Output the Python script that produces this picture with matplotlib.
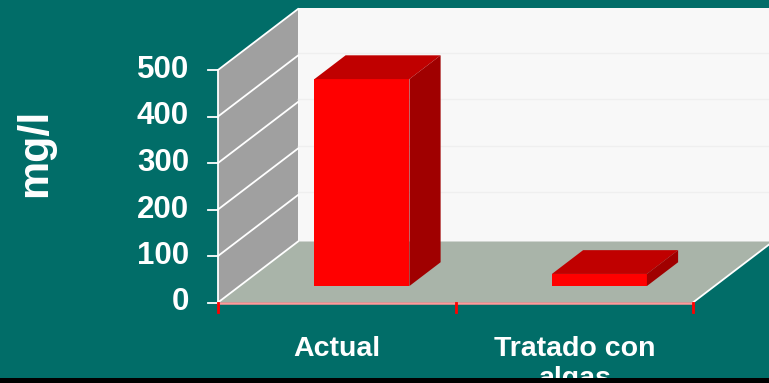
import matplotlib
matplotlib.use("Agg")
import matplotlib.pyplot as plt
from matplotlib.patches import Rectangle

categories = ["Actual", "Tratado con\nalgas"]
values = [445, 26]
yticks = [0, 100, 200, 300, 400, 500]
ylabel = "mg/l"

BG = "#016D68"
FONT = "Liberation Sans"

W, H = 769, 383
fig = plt.figure(figsize=(W / 100, H / 100), dpi=100, facecolor=BG)
ax = fig.add_axes([0, 0, 1, 1])
ax.set_facecolor(BG)
ax.axis("off")

# scale: category unit = 237.5 px, value unit = 0.465 px
CX, VY = 237.5, 0.465
X0, Y0 = 218, 302.5  # pixel of origin (from left / from top)
ax.set_xlim(-X0 / CX, (W - X0) / CX)
ax.set_ylim((Y0 - H) / VY, Y0 / VY)

DX = 80 / CX   # depth offset in category units
DY = 61 / VY   # depth offset in value units
ymax = 500
ncat = len(categories)

# walls and floor
ax.fill([0, DX, DX, 0], [0, DY, ymax + DY, ymax], color="#A0A0A0", zorder=1, lw=0)
ax.fill([DX, 3, 3, DX], [DY, DY, ymax + DY + 3, ymax + DY + 3], color="#F8F8F8", zorder=1, lw=0)
ax.fill([0, ncat, ncat + DX, DX], [0, 0, DY, DY], color="#A9B4A9", zorder=1, lw=0)
# back-wall faint gridlines
for v in yticks[1:-1]:
    ax.plot([DX, 3], [v + DY + 6, v + DY + 6], color="#EFEFEF", lw=1, zorder=1.5)
# left-wall gridlines
for v in yticks:
    ax.plot([0, DX], [v, v + DY], color="white", lw=1.3, zorder=2)
ax.plot([ncat, ncat + DX], [0, DY], color="white", lw=1.3, zorder=2)
# vertical axis line & ticks
ax.plot([0, 0], [0, ymax], color="white", lw=1.3, zorder=3)
for v in yticks:
    ax.plot([-10 / CX, 0], [v, v], color="white", lw=1.3, zorder=3)
    ax.text(-29 / CX, v, str(v), ha="right", va="center", color="white",
            fontsize=22.5, fontweight="bold", family=FONT)
# floor front edge and category ticks
ax.plot([0, ncat], [0, 0], color="#FF9A9A", lw=1.8, zorder=3)
for i in range(ncat + 1):
    ax.plot([i, i], [0, -20], color="#FF0000", lw=2, zorder=3)

# bars
d0, d1 = 0.27, 0.66
bw = 0.4
shift = 0.015
for i, (c, v) in enumerate(zip(categories, values)):
    xl = i + 0.5 - bw / 2 + shift
    xr = i + 0.5 + bw / 2 + shift
    fx, fy = d0 * DX, d0 * DY
    bx, by = d1 * DX, d1 * DY
    # front
    ax.fill([xl + fx, xr + fx, xr + fx, xl + fx], [fy, fy, v + fy, v + fy],
            color="#FF0000", lw=0, zorder=4)
    # top
    ax.fill([xl + fx, xr + fx, xr + bx, xl + bx], [v + fy, v + fy, v + by, v + by],
            color="#C00000", lw=0, zorder=4)
    # side
    ax.fill([xr + fx, xr + bx, xr + bx, xr + fx], [fy, by, v + by, v + fy],
            color="#A00000", lw=0, zorder=4)
    ax.text(i + 0.5, -34 / VY, c, ha="center", va="top", color="white",
            fontsize=20.5, fontweight="bold", family=FONT, linespacing=1.15)

ax.text((35 - X0) / CX, (Y0 - 153) / VY, ylabel, rotation=90, ha="center", va="center",
        color="white", fontsize=31, fontweight="bold", family=FONT)

fig.patches.append(Rectangle((0, 0), 1, 5 / H, transform=fig.transFigure,
                             facecolor="black", edgecolor="none", zorder=10))

fig.savefig("out.png", dpi=100, facecolor=BG)
